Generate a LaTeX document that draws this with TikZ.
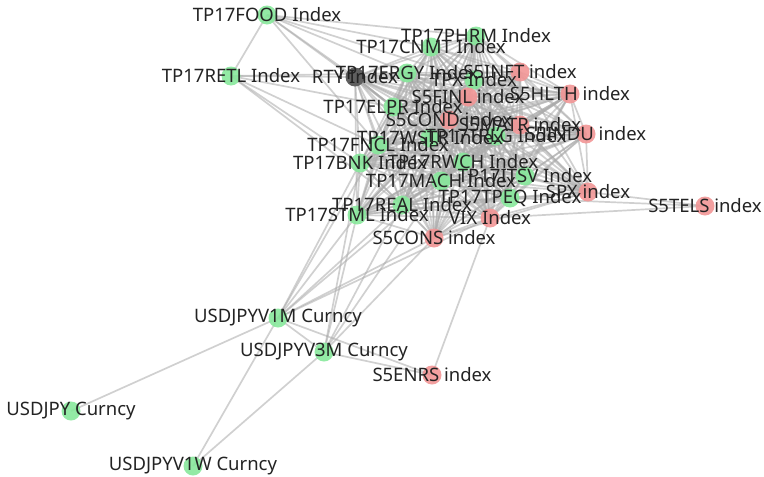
\documentclass[tikz,border=0pt]{standalone}
\usepackage{fontspec}
\setmainfont{Noto Sans}
\usepackage{xcolor}
\usetikzlibrary{positioning}
\definecolor{netgreen}{RGB}{135,232,155}
\definecolor{netred}{RGB}{242,150,150}
\definecolor{netgrey}{RGB}{95,95,95}
\definecolor{netedge}{RGB}{170,170,170}
\definecolor{nettext}{RGB}{35,35,35}
\pgfdeclarelayer{edgelayer}
\pgfdeclarelayer{dotlayer}
\pgfsetlayers{edgelayer,dotlayer,main}

\begin{document}
\begin{tikzpicture}[x=1pt, y=-1pt,
  every node/.style={font=\fontsize{18.5}{21}\selectfont, text=nettext, inner sep=0pt},
  link/.style={draw=netedge, line width=1.7pt, draw opacity=0.55},
  gdot/.style={fill=netgreen, fill opacity=0.9},
  rdot/.style={fill=netred, fill opacity=0.9}]
  \useasboundingbox (0,0) rectangle (764,477);
  % labels, centred on the dots
  \node (food) at (267,15) {TP17FOOD Index};
  \node (retl) at (231,76) {TP17RETL Index};
  \node (rty) at (355,77) {RTY Index};
  \node (phrm) at (476,36) {TP17PHRM Index};
  \node (cnmt) at (431,47) {TP17CNMT Index};
  \node (ergy) at (407,73) {TP17ERGY Index};
  \node (inft) at (520,72) {S5INFT index};
  \node (tpx) at (474,80) {TPX Index};
  \node (finl) at (468,97) {S5FINL index};
  \node (hlth) at (570,94) {S5HLTH index};
  \node (elpr) at (393,107) {TP17ELPR Index};
  \node (cond) at (449,120) {S5COND index};
  \node (matr) at (520,125) {S5MATR index};
  \node (indu) at (586,134) {S5INDU index};
  \node (fncl) at (378,145) {TP17FNCL Index};
  \node (wstr) at (430,138) {TP17WSTR Index};
  \node (trlg) at (496,136) {TP17TRLG Index};
  \node (bnk) at (360,163) {TP17BNK Index};
  \node (rwch) at (463,162) {TP17RWCH Index};
  \node (mach) at (441,181) {TP17MACH Index};
  \node (itsv) at (525,176) {TP17ITSV Index};
  \node (spx) at (588,192) {SPX index};
  \node (tels) at (705,206) {S5TELS index};
  \node (tpeq) at (510,198) {TP17TPEQ Index};
  \node (real) at (402,205) {TP17REAL Index};
  \node (stml) at (357,215) {TP17STML Index};
  \node (vix) at (490,218) {VIX Index};
  \node (cons) at (434,238) {S5CONS index};
  \node (v1m) at (278,318) {USDJPYV1M Curncy};
  \node (v3m) at (324,352) {USDJPYV3M Curncy};
  \node (enrs) at (432,375) {S5ENRS index};
  \node (usdjpy) at (71,411) {USDJPY Curncy};
  \node (v1w) at (193,466) {USDJPYV1W Curncy};

  \begin{pgfonlayer}{dotlayer}
    \foreach \n in {food,retl,phrm,cnmt,ergy,tpx,elpr,fncl,wstr,trlg,bnk,rwch,mach,itsv,tpeq,real,stml,v1m,v3m,usdjpy,v1w}
      \fill[gdot] (\n.center) circle (9.5);
    \foreach \n in {inft,finl,hlth,cond,matr,indu,spx,tels,vix,cons,enrs}
      \fill[rdot] (\n.center) circle (9.5);
    \fill[netgrey] (rty.center) circle (9.5);
  \end{pgfonlayer}

  \begin{pgfonlayer}{edgelayer}
    % dense core
    \def\corelist{rty,cnmt,phrm,ergy,inft,tpx,finl,hlth,elpr,cond,matr,indu,fncl,wstr,trlg,bnk,rwch,mach,itsv,spx,tpeq,real,stml,vix,cons}
    \foreach \a [count=\i] in \corelist
      \foreach \b [count=\j] in \corelist
        {\ifnum\i<\j \draw[link] (\a.center) -- (\b.center); \fi}
    % outer links
    \foreach \a/\b in {food/retl, food/rty, food/cnmt, food/ergy, food/elpr, food/fncl, food/tpx, food/phrm,
      retl/rty, retl/ergy, retl/elpr, retl/fncl, retl/bnk, retl/real,
      tels/spx, tels/tpeq, tels/vix,
      v1m/usdjpy, v1m/v3m, v1m/enrs, v1m/v1w, v1m/stml, v1m/real, v1m/bnk, v1m/fncl, v1m/cons, v1m/mach, v1m/vix,
      v3m/enrs, v3m/v1w, v3m/stml, v3m/real, v3m/cons, v3m/bnk, v3m/mach,
      enrs/vix}
      \draw[link] (\a.center) -- (\b.center);
  \end{pgfonlayer}
\end{tikzpicture}
\end{document}
